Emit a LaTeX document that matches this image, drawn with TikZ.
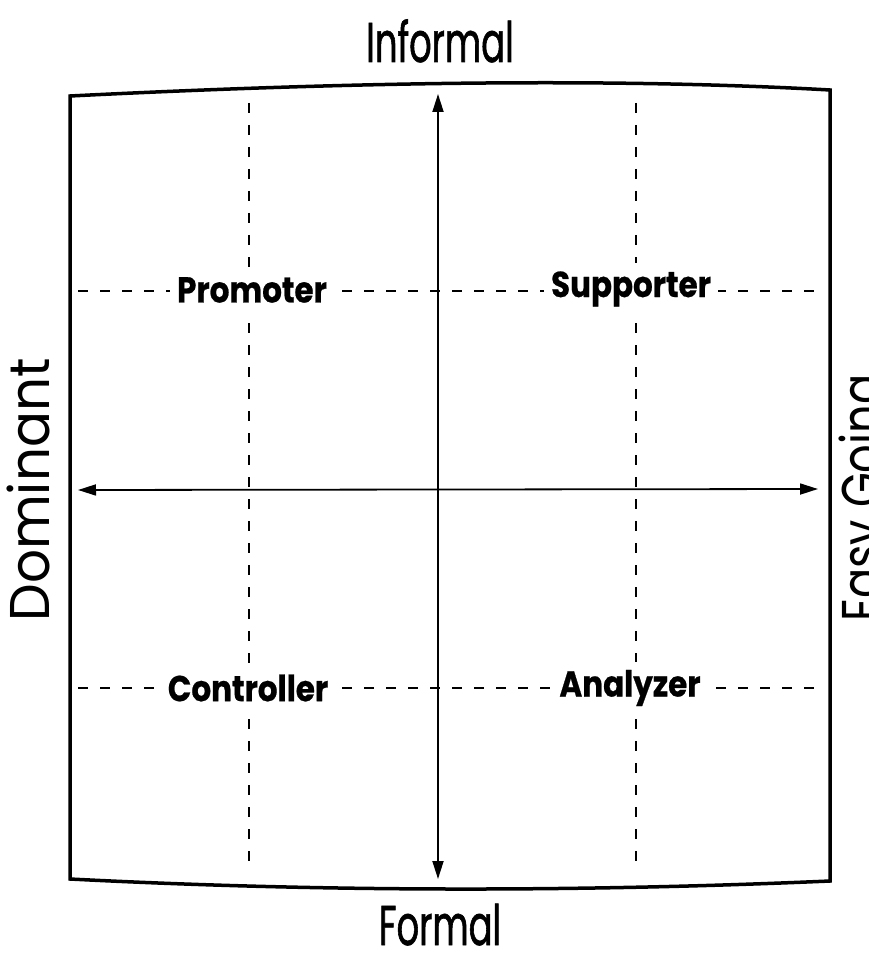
\documentclass[tikz,border=0pt]{standalone}
\usepackage{fontspec}
\setmainfont{Poppins}
\newfontfamily\horizfont[FakeStretch=0.63,FakeBold=1]{Poppins}
\newfontfamily\domfont[FakeStretch=0.95]{Poppins}
\newfontfamily\easyfont[FakeStretch=0.8]{Poppins}
\newfontfamily\typefont[FakeStretch=0.86,FakeBold=0.6]{Poppins}
\usetikzlibrary{arrows.meta}
\begin{document}
\begin{tikzpicture}[x=1pt,y=-1pt,
  frame/.style={line width=3.5pt,line join=miter},
  axisarrow/.style={line width=1.8pt,{Triangle[length=18pt,width=11pt]}-{Triangle[length=18pt,width=11pt]}},
  guide/.style={line width=2.4pt,dash pattern=on 10pt off 12pt},
  typelabel/.style={fill=white,inner xsep=7pt,inner ysep=8pt,font=\typefont\fontsize{36}{42}\selectfont\bfseries},
  axislabel/.style={inner sep=0pt,anchor=base}
]
\useasboundingbox (0,0) rectangle (869,968);
\fill[white] (0,0) rectangle (869,968);

% frame
\draw[frame] (70,96) .. controls (330,83) and (600,77) .. (830,90)
  -- (830,881) .. controls (577,892) and (323,892) .. (70,879) -- cycle;

% guide coordinates
\coordinate (v1t) at (249,103);
\coordinate (v1b) at (249,872);
\coordinate (v2t) at (636,103);
\coordinate (v2b) at (636,872);
\coordinate (h1l) at (78,291);
\coordinate (h1r) at (822,291);
\coordinate (h2l) at (78,688);
\coordinate (h2r) at (822,688);

\draw[guide] (v1t) -- (v1b);
\draw[guide] (v2t) -- (v2b);
\draw[guide] (h1l) -- (h1r);
\draw[guide] (h2l) -- (h2r);

% type labels
\node[typelabel] (promoter) at (252,290) {Promoter};
\node[typelabel] (supporter) at (631,289) {Supporter};
\node[typelabel] (controller) at (248,688) {Controller};
\node[typelabel] (analyzer) at (630,688) {Analyzer};

% axes
\coordinate (atop) at (438,94);
\coordinate (abot) at (438,879);
\coordinate (aleft) at (78,490);
\coordinate (aright) at (818,489);
\draw[axisarrow] (atop) -- (abot);
\draw[axisarrow] (aleft) -- (aright);

% axis labels
\node[axislabel,font=\horizfont\fontsize{56}{64}\selectfont] (informal) at (440,62) {Informal};
\node[axislabel,font=\horizfont\fontsize{56}{64}\selectfont] (formal) at (440,945) {Formal};
\node[axislabel,rotate=90,font=\domfont\fontsize{56}{64}\selectfont] (dominant) at (49,490) {Dominant};
\node[axislabel,rotate=90,font=\easyfont\fontsize{56}{64}\selectfont] (easygoing) at (881,498) {Easy Going};
\end{tikzpicture}
\end{document}
